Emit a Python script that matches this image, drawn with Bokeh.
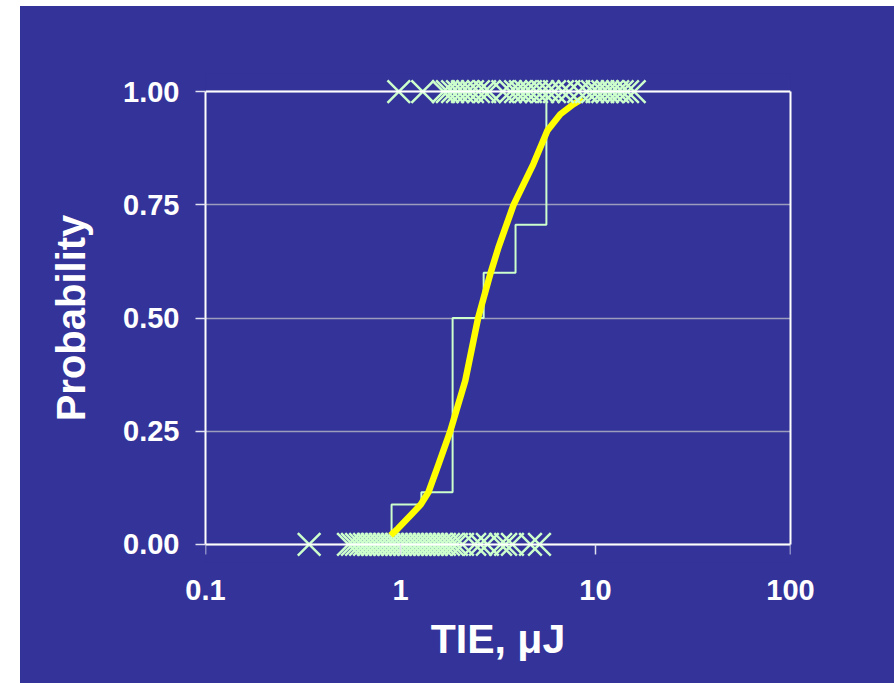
from bokeh.plotting import figure
from bokeh.models import Range1d, LogAxis, LinearAxis, FixedTicker, Spacer, CustomJSTickFormatter
from bokeh.layouts import column, row
from bokeh.embed import file_html
from bokeh.resources import INLINE

# Ignition-energy test outcomes (TIE in microjoules)
no_ignition_energy = [0.34, 0.541, 0.567, 0.595, 0.624, 0.654, 0.685, 0.718, 0.753,
                      0.789, 0.828, 0.868, 0.910, 0.954, 1.00, 1.049, 1.099, 1.152,
                      1.208, 1.266, 1.327, 1.391, 1.459, 1.529, 1.603, 1.68, 1.762,
                      1.847, 1.936, 2.08, 2.40, 2.57, 2.79, 3.26, 3.46, 3.75, 4.64, 5.16]
ignition_energy = [0.98, 1.30, 1.66, 1.74, 1.85, 1.96, 2.08, 2.21, 2.34, 2.51, 2.70,
                   2.85, 3.35, 3.66, 3.89, 4.12, 4.38, 4.64, 4.98, 5.35, 5.74, 6.16,
                   6.77, 7.30, 8.20, 9.00, 9.66, 10.2, 10.9, 11.5, 12.2, 13.0, 13.7,
                   14.6, 15.8]

# Binned empirical ignition probability (bin left edges and probability)
step_edges = [0.90, 1.28, 1.85, 2.67, 3.89, 5.60]
step_probs = [0.088, 0.115, 0.50, 0.60, 0.706, 1.00]

# Fitted probability curve
fit_energy = [0.89, 0.97, 1.15, 1.27, 1.39, 1.57, 1.80, 2.15, 2.50, 2.90,
              3.18, 3.80, 4.80, 5.67, 6.60, 7.70, 8.60]
fit_prob = [0.02, 0.035, 0.068, 0.088, 0.115, 0.178, 0.25, 0.362, 0.50, 0.60,
            0.656, 0.75, 0.84, 0.914, 0.95, 0.972, 0.985]

x_ticks = [0.1, 1, 10, 100]
x_tick_labels = ["0.1", "1", "10", "100"]
y_ticks = [0.0, 0.25, 0.5, 0.75, 1.0]
y_tick_labels = ["0.00", "0.25", "0.50", "0.75", "1.00"]

BLUE = "#333399"
MINT = "#ccffcc"
GRID = "#9c9cbc"
FONT = "Liberation Sans"

p = figure(width=874, height=677, x_axis_type="log",
           x_range=Range1d(0.1, 100), y_range=Range1d(-0.04, 1.04),
           output_backend="svg", toolbar_location=None,
           min_border_left=185, min_border_right=104,
           min_border_top=67, min_border_bottom=121,
           background_fill_color=BLUE, border_fill_color=BLUE,
           outline_line_color=None,
           styles={"background-color": BLUE})

# grid: horizontal lines only
p.xgrid.visible = False
p.ygrid.ticker = FixedTicker(ticks=y_ticks)
p.ygrid.grid_line_color = GRID
p.ygrid.grid_line_width = 1.5


def style_axis(ax):
    ax.axis_line_color = "white"
    ax.axis_line_width = 2
    ax.major_tick_line_color = "#e0e0f0"
    ax.major_tick_line_width = 1.5
    ax.major_tick_in = 0
    ax.major_tick_out = 10
    ax.minor_tick_line_color = None
    ax.major_label_text_color = "white"
    ax.major_label_text_font = FONT
    ax.major_label_text_font_style = "bold"
    ax.major_label_text_font_size = "29px"
    ax.axis_label_text_color = "white"
    ax.axis_label_text_font = FONT
    ax.axis_label_text_font_style = "bold"


def label_formatter(vals, labs):
    return CustomJSTickFormatter(
        args=dict(vals=vals, labs=labs),
        code="""
            for (let i = 0; i < vals.length; i++) {
                if (Math.abs(vals[i] - tick) <= 1e-9 * Math.max(1, Math.abs(tick)))
                    return labs[i]
            }
            return ""
        """)


# x axis line and ticks sit on P = 0
xa = p.xaxis[0]
style_axis(xa)
xa.fixed_location = 0
xa.bounds = (x_ticks[0], x_ticks[-1])
xa.ticker = FixedTicker(ticks=x_ticks)
xa.major_label_text_alpha = 0

# x tick labels and title, placed in the panel under the frame
xlab = LogAxis(ticker=FixedTicker(ticks=x_ticks),
               formatter=label_formatter(x_ticks, x_tick_labels))
style_axis(xlab)
xlab.axis_line_color = None
xlab.major_tick_line_color = None
xlab.major_tick_out = 0
xlab.major_label_standoff = 17
xlab.axis_label = "TIE, μJ"
xlab.axis_label_text_font_size = "41px"
xlab.axis_label_standoff = 13
p.add_layout(xlab, "below")

ya = p.yaxis[0]
style_axis(ya)
ya.bounds = (y_ticks[0], y_ticks[-1])
ya.ticker = FixedTicker(ticks=y_ticks)
ya.formatter = label_formatter(y_ticks, y_tick_labels)
ya.major_label_standoff = 16
ya.axis_label = "Probability"
ya.axis_label_text_font_size = "40px"
ya.axis_label_standoff = 27

# closing frame lines on the top and right
right = LinearAxis(bounds=(y_ticks[0], y_ticks[-1]), ticker=FixedTicker(ticks=[]),
                   axis_line_color="white", axis_line_width=2,
                   major_tick_line_color=None, minor_tick_line_color=None,
                   major_label_text_font_size="0px")
p.add_layout(right, "right")
top = LogAxis(fixed_location=y_ticks[-1], bounds=(x_ticks[0], x_ticks[-1]),
              ticker=FixedTicker(ticks=[]),
              axis_line_color="white", axis_line_width=2,
              major_tick_line_color=None, minor_tick_line_color=None,
              major_label_text_font_size="0px")
p.add_layout(top, "above")

# empirical step curve
sx = [step_edges[0]]
sy = [0.0]
for i, (e, pr) in enumerate(zip(step_edges, step_probs)):
    sx.append(e)
    sy.append(pr)
    if i + 1 < len(step_edges):
        sx.append(step_edges[i + 1])
        sy.append(pr)
p.line(sx, sy, line_color=MINT, line_width=2)

# non-ignition outcomes
p.scatter(no_ignition_energy, [0] * len(no_ignition_energy), marker="x", size=32,
          line_color=MINT, line_width=2.5)

# fitted curve
p.line(fit_energy, fit_prob, line_color="#ffff00", line_width=6.5, line_join="round")

# ignition outcomes
p.scatter(ignition_energy, [1] * len(ignition_energy), marker="x", size=32,
          line_color=MINT, line_width=2.5)

layout = column(Spacer(width=894, height=6),
                row(Spacer(width=20, height=677), p))

open("out.html", "w").write(file_html(layout, INLINE))
